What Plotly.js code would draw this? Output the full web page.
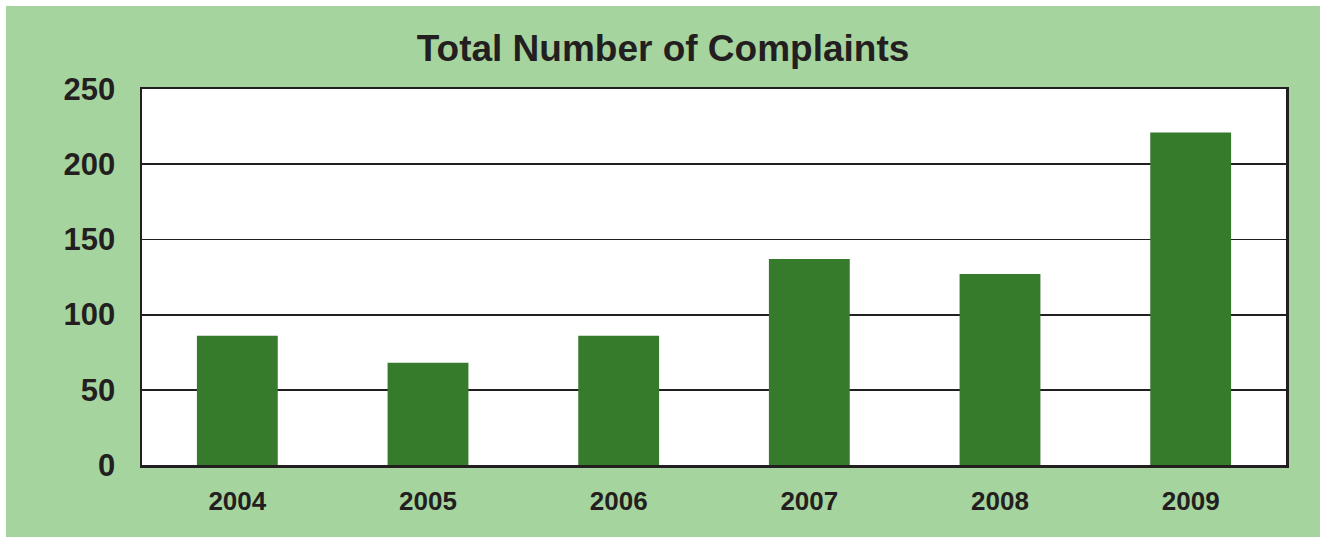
<!DOCTYPE html>
<html>
<head>
<meta charset="utf-8">
<script src="https://cdn.plot.ly/plotly-3.0.1.min.js"></script>
<style>
html,body{margin:0;padding:0;background:#ffffff;width:1320px;height:537px;overflow:hidden;}
#chart{position:absolute;left:6px;top:6px;width:1314px;height:531px;}
</style>
</head>
<body>
<div id="chart"></div>
<script>
const years = ["2004", "2005", "2006", "2007", "2008", "2009"];
const complaints = [86, 68, 86, 137, 127, 221];
const yTicks = [0, 50, 100, 150, 200, 250];

const ink = "#231F20";
const fontFam = "Liberation Sans, Arial, Helvetica, sans-serif";

Plotly.newPlot("chart", [{
  type: "bar",
  x: years,
  y: complaints,
  marker: {color: "#367A2C", line: {width: 0}},
  hoverinfo: "x+y"
}], {
  width: 1314,
  height: 531,
  paper_bgcolor: "#A6D49F",
  plot_bgcolor: "#ffffff",
  margin: {l: 136, r: 34, t: 83, b: 72, pad: 0},
  bargap: 0.576,
  showlegend: false,
  title: {
    text: "<b>Total Number of Complaints</b>",
    font: {family: fontFam, size: 37, color: ink},
    x: 0.5, xref: "container", xanchor: "center",
    y: 0.921, yref: "container", yanchor: "middle"
  },
  xaxis: {
    type: "category",
    showgrid: false,
    showline: true, mirror: true, linecolor: ink, linewidth: 2.5,
    ticks: "",
    tickfont: {family: fontFam, size: 26, color: ink, weight: "bold"},
    ticklabelstandoff: 11,
    zeroline: false
  },
  yaxis: {
    range: [0, 250],
    tickvals: yTicks,
    ticktext: yTicks.map(String),
    showgrid: true, gridcolor: ink, gridwidth: 1.8,
    showline: true, mirror: true, linecolor: ink, linewidth: 2.5,
    ticks: "",
    tickfont: {family: fontFam, size: 31, color: ink, weight: "bold"},
    ticklabelstandoff: 18,
    zeroline: false
  }
}, {displayModeBar: false, staticPlot: true});
</script>
</body>
</html>
